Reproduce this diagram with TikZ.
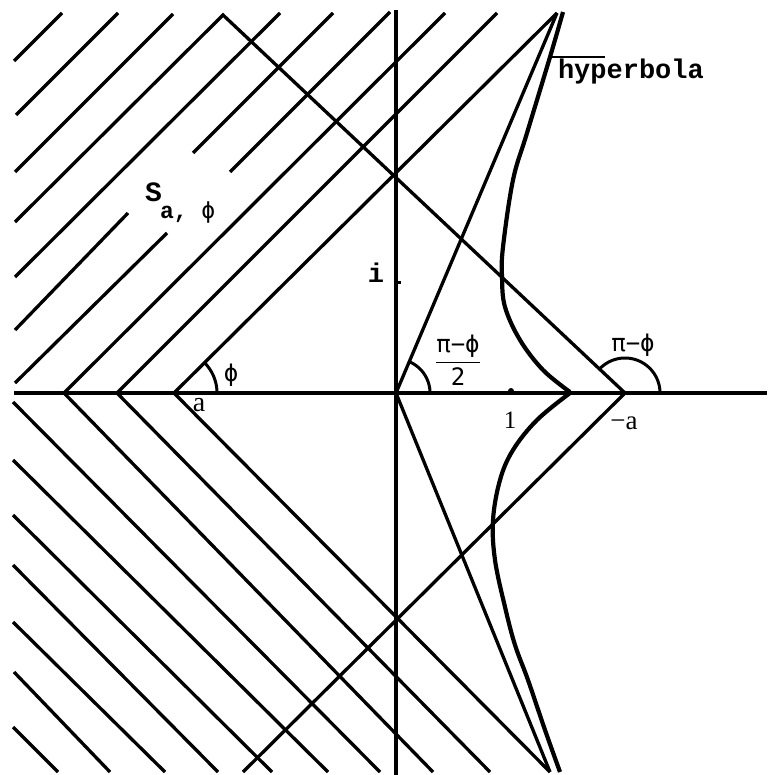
\RequirePackage{fix-cm}
\documentclass[tikz,border=0pt]{standalone}
\usepackage{fontspec}
\setmainfont{Liberation Serif}
\newfontfamily\tw{Liberation Mono}
\newfontfamily\gk{DejaVu Sans Mono}
\begin{document}
\begin{tikzpicture}[x=1pt,y=-1pt,
  ln/.style={line width=3.3pt},
  hyp/.style={line width=4.2pt, line join=round},
  arcst/.style={line width=3pt},
  lbl/.style={inner sep=0pt, outer sep=0pt}]
\useasboundingbox (0,0) rectangle (767,775);
\fill[white] (0,0) rectangle (767,775);
% key points
\coordinate (O) at (396,393);
\coordinate (A) at (174,393);
\coordinate (MA) at (625,393);
\coordinate (T) at (557,13);
\coordinate (B) at (550,772);
\coordinate (P) at (223,15);
\coordinate (Q) at (243,772);
\coordinate (V1) at (64,393);
\coordinate (V2) at (117,393);
% axes
\draw[ln] (14,393) -- (767,393);
\draw[ln] (396,10) -- (396,775);
% upper hatching
\draw[ln] (14,61) -- (62,13);
\draw[ln] (16,115) -- (118,13);
\draw[ln] (15,172) -- (173,14);
\draw[ln] (15,222) -- (P) -- (MA) -- (Q);
\draw[ln] (15,277) -- (280,13);
\draw[ln] (15,330) -- (128,213);
\draw[ln] (193,153) -- (333,13);
\draw[ln] (15,383) -- (167,233);
\draw[ln] (230,172) -- (390,12);
\draw[ln] (445,13) -- (V1) -- (433,772);
\draw[ln] (497,13) -- (V2) -- (490,772);
\draw[ln] (T) -- (A) -- (B);
\draw[ln] (T) -- (O) -- (B);
% lower hatching
\draw[ln] (13,727) -- (58,772);
\draw[ln] (14,672) -- (110,772);
\draw[ln] (13,622) -- (165,772);
\draw[ln] (13,565) -- (218,772);
\draw[ln] (13,515) -- (272,772);
\draw[ln] (13,460) -- (328,772);
\draw[ln] (13,402) -- (380,772);
% hyperbola
\draw[hyp] plot[smooth, tension=0.6] coordinates {(563,12) (550,57) (527,133) (513,180) (503,247) (502,277) (505,307) (520,340) (543,370) (570,392)};
\draw[hyp] plot[smooth, tension=0.6] coordinates {(570,393) (537,420) (513,450) (500,480) (493,520) (495,560) (505,607) (515,645) (528,680) (545,730) (560,772)};
% leader and label
\coordinate (H) at (550,57);
\node[lbl, anchor=base west] (hyplabel) at (558,79) {\fontsize{27}{30}\selectfont\tw\bfseries hyperbola};
\draw[line width=2.2pt] (H) -- (605,57);
% angle arcs
\draw[arcst] plot[domain=0:45, samples=30] ({174+43*cos(\x)},{393-43*sin(\x)});
\draw[arcst] plot[domain=0:67.5, samples=30] ({396+34*cos(\x)},{393-34*sin(\x)});
\draw[arcst] plot[domain=0:135, samples=40] ({625+35*cos(\x)},{393-35*sin(\x)});
% ticks
\fill (511,391) circle (3pt);
\draw[line width=3pt] (396,282) -- (401,282);
% labels
\node[lbl] (phiA) at (231,375) {\fontsize{24}{26}\selectfont\gk ϕ};
\node[lbl] (la) at (199,405) {\fontsize{28}{30}\selectfont a};
\node[lbl] (lone) at (510,420) {\fontsize{25}{30}\selectfont 1};
\node[lbl] (lma) at (624,423) {\fontsize{27}{30}\selectfont −a};
\node[lbl] (li) at (376,273) {\fontsize{27}{30}\selectfont\tw\bfseries i};
\node[lbl, anchor=base west] (lS) at (145,202) {\fontsize{28}{30}\selectfont\tw\bfseries S};
\node[lbl, anchor=base west] (lsub) at (160,219) {\fontsize{23}{26}\selectfont\tw\bfseries a, {\gk\mdseries ϕ}};
\node[lbl] (lfrac) at (458,360) {\fontsize{24}{26}\selectfont$\displaystyle\frac{\hbox{\gk π−ϕ}}{\hbox{\gk 2}}$};
\node[lbl] (lpmp) at (633,345) {\fontsize{24}{26}\selectfont\gk π−ϕ};
\end{tikzpicture}
\end{document}
